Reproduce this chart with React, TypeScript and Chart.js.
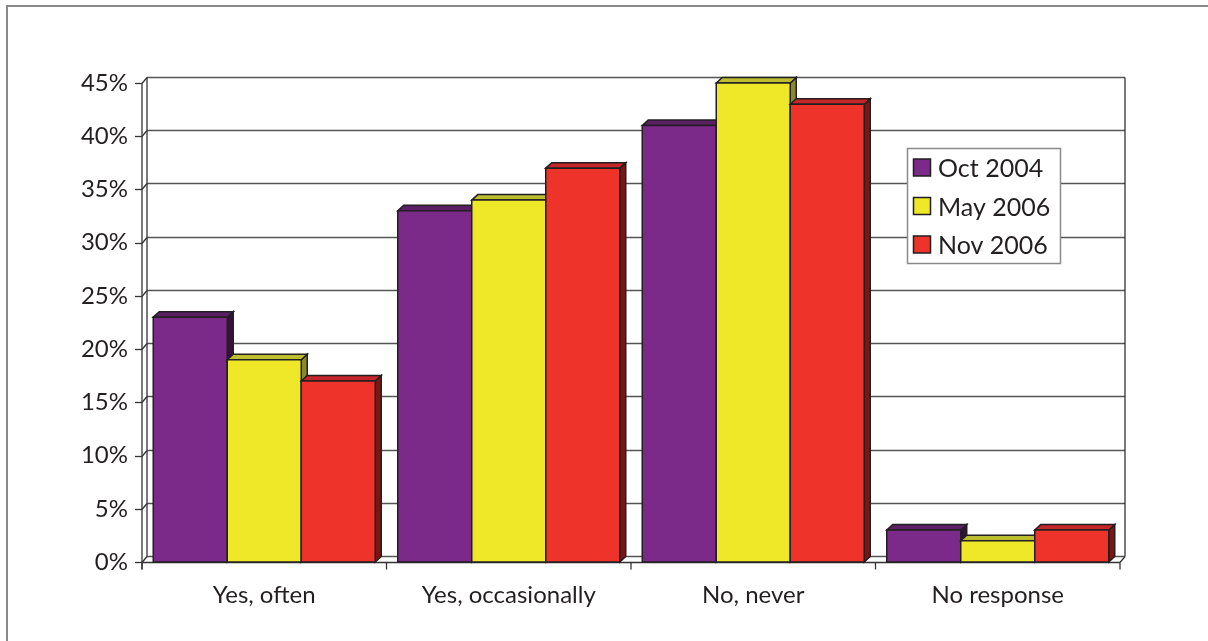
import React, { useEffect, useRef } from "react";
import { Chart, registerables } from "chart.js";

Chart.register(...registerables);

const categories = ["Yes, often", "Yes, occasionally", "No, never", "No response"];
const seriesLabels = ["Oct 2004", "May 2006", "Nov 2006"];
const oct2004 = [23, 33, 41, 3];
const may2006 = [19, 34, 45, 2];
const nov2006 = [17, 37, 43, 3];
const yTickValues = [0, 5, 10, 15, 20, 25, 30, 35, 40, 45];

const frontColors = ["#7b2a8a", "#eee829", "#ee332a"];
const topColors = ["#5b1f66", "#bdbd30", "#c4262a"];
const sideColors = ["#351039", "#8a8a2c", "#7a1616"];

const FONT = "Lato, 'Open Sans', sans-serif";
const TEXT = "#231f20";
const OUTLINE = "#231f20";

const threeD = {
  id: "threeD",
  beforeDraw(chart: any) {
    const ctx = chart.ctx;
    ctx.save();
    ctx.fillStyle = "#ffffff";
    ctx.fillRect(0, 0, chart.width, chart.height);
    ctx.strokeStyle = "#8a8a8a";
    ctx.lineWidth = 2;
    ctx.strokeRect(7, 6, chart.width + 50, chart.height + 50);
    ctx.restore();
  },
  beforeDatasetsDraw(chart: any) {
    const ctx = chart.ctx;
    const { left, right, top, bottom } = chart.chartArea;
    const ys = chart.scales.y;
    const xs = chart.scales.x;
    const wx = 5, wy = 6;
    const line = (x1: number, y1: number, x2: number, y2: number) => {
      ctx.beginPath();
      ctx.moveTo(x1, y1);
      ctx.lineTo(x2, y2);
      ctx.stroke();
    };
    ctx.save();
    ctx.lineWidth = 1.3;
    ctx.strokeStyle = "#555555";
    yTickValues.forEach((v) => {
      const py = Math.round(ys.getPixelForValue(v)) + 0.5;
      line(left + wx, py - wy, right + wx, py - wy);
    });
    ctx.strokeStyle = "#333333";
    yTickValues.forEach((v) => {
      const py = Math.round(ys.getPixelForValue(v)) + 0.5;
      line(left - 7, py, left, py);
      line(left, py, left + wx, py - wy);
    });
    const t = Math.round(top) + 0.5;
    const b = Math.round(bottom) + 0.5;
    line(left + wx, t - wy, left + wx, b - wy);
    line(right + wx, t - wy, right + wx, b - wy);
    line(left, t, left, b + 7);
    line(left, b, right, b);
    line(right, b, right + wx, b - wy);
    const n = categories.length;
    const catW = (right - left) / n;
    for (let i = 0; i <= n; i++) {
      const bx = i < n ? xs.getPixelForValue(i) - catW / 2 : xs.getPixelForValue(n - 1) + catW / 2;
      line(bx, b, bx, b + 7);
    }
    ctx.restore();
  },
  afterDatasetsDraw(chart: any) {
    const ctx = chart.ctx;
    const dx = 6, dy = 5.5;
    const nD = chart.data.datasets.length;
    ctx.save();
    ctx.lineWidth = 1.5;
    ctx.strokeStyle = OUTLINE;
    ctx.lineJoin = "miter";
    for (let i = 0; i < categories.length; i++) {
      for (let d = 0; d < nD; d++) {
        const el = chart.getDatasetMeta(d).data[i];
        const { x, y, base, width } = el.getProps(["x", "y", "base", "width"], true);
        const l = x - width / 2;
        const r = x + width / 2;
        ctx.fillStyle = sideColors[d];
        ctx.beginPath();
        ctx.moveTo(r, y);
        ctx.lineTo(r + dx, y - dy);
        ctx.lineTo(r + dx, base - dy);
        ctx.lineTo(r, base);
        ctx.closePath();
        ctx.fill();
        ctx.stroke();
        ctx.fillStyle = topColors[d];
        ctx.beginPath();
        ctx.moveTo(l, y);
        ctx.lineTo(l + dx, y - dy);
        ctx.lineTo(r + dx, y - dy);
        ctx.lineTo(r, y);
        ctx.closePath();
        ctx.fill();
        ctx.stroke();
        ctx.fillStyle = frontColors[d];
        ctx.beginPath();
        ctx.rect(l, y, r - l, base - y);
        ctx.fill();
        ctx.stroke();
      }
    }
    ctx.restore();
  },
  afterDraw(chart: any) {
    const ctx = chart.ctx;
    ctx.save();
    const bx = 907.5, by = 148.5, bw = 153, bh = 115;
    ctx.fillStyle = "#ffffff";
    ctx.fillRect(bx, by, bw, bh);
    ctx.strokeStyle = "#8a8a8a";
    ctx.lineWidth = 1.5;
    ctx.strokeRect(bx, by, bw, bh);
    ctx.font = `25px ${FONT}`;
    ctx.textBaseline = "middle";
    ctx.textAlign = "left";
    chart.data.datasets.forEach((ds: any, d: number) => {
      const cy = 168 + d * 38.5;
      ctx.fillStyle = frontColors[d];
      ctx.fillRect(913.5, cy - 9, 17, 17);
      ctx.strokeStyle = OUTLINE;
      ctx.lineWidth = 1.5;
      ctx.strokeRect(913.5, cy - 9, 17, 17);
      ctx.fillStyle = TEXT;
      ctx.fillText(ds.label, 938, cy + 1);
    });
    ctx.restore();
  },
};

export default function App() {
  const ref = useRef<HTMLCanvasElement | null>(null);
  useEffect(() => {
    document.body.style.margin = "0";
    const canvas = ref.current;
    if (!canvas) return;
    const seriesValues = [oct2004, may2006, nov2006];
    const chart = new Chart(canvas, {
      type: "bar",
      data: {
        labels: categories,
        datasets: seriesLabels.map((label, d) => ({
          label,
          data: seriesValues[d],
          backgroundColor: "rgba(0,0,0,0)",
          borderWidth: 0,
          barPercentage: 1,
          categoryPercentage: 0.908,
        })),
      },
      options: {
        responsive: false,
        animation: false,
        layout: { padding: { top: 83, right: 88, left: 0, bottom: 0 } },
        plugins: {
          legend: { display: false },
          tooltip: { enabled: false },
        },
        scales: {
          x: {
            offset: true,
            grid: { display: false, drawTicks: true, tickLength: 7 },
            border: { display: false },
            ticks: {
              color: TEXT,
              padding: 12,
              font: { family: FONT, size: 24 },
            },
            afterFit: (s: any) => {
              s.height = 641 - 562;
            },
          },
          y: {
            min: 0,
            max: 45,
            grid: { display: false, drawTicks: true, tickLength: 7 },
            border: { display: false },
            ticks: {
              stepSize: 5,
              color: TEXT,
              padding: 7,
              font: { family: FONT, size: 24 },
              callback: (v: any) => `${v}%`,
            },
            afterFit: (s: any) => {
              s.width = 142;
            },
          },
        },
      },
      plugins: [threeD],
    });
    return () => chart.destroy();
  }, []);
  return (
    <div style={{ position: "fixed", left: 0, top: 0, width: 1208, height: 641 }}>
      <canvas ref={ref} width={1208} height={641} style={{ width: 1208, height: 641, display: "block" }} />
    </div>
  );
}
